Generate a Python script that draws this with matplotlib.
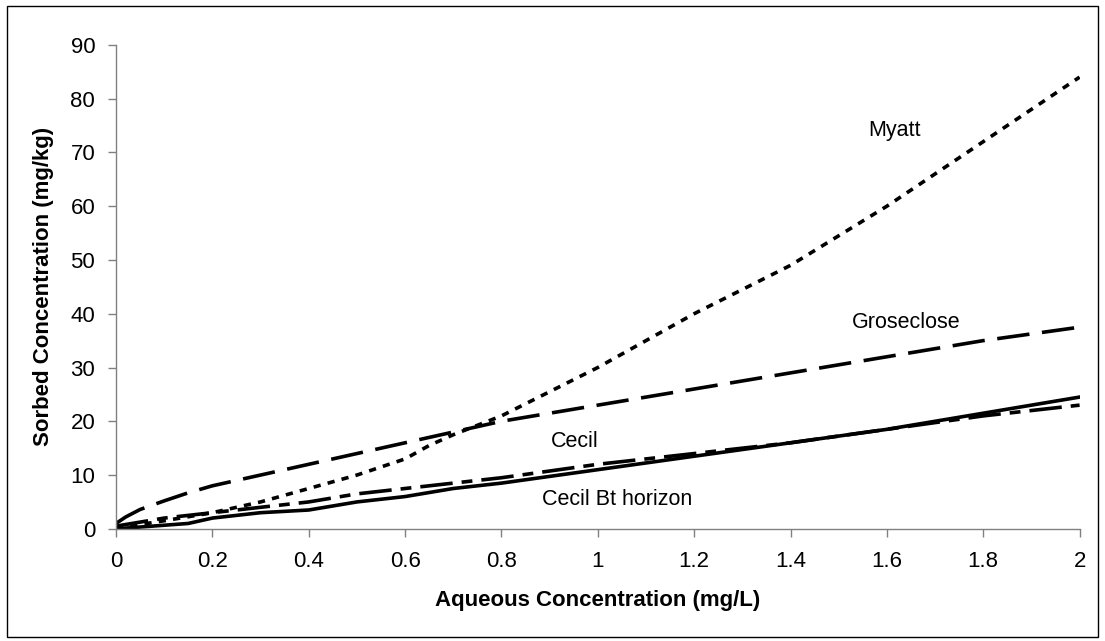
import matplotlib
matplotlib.use('Agg')
import matplotlib.pyplot as plt
from matplotlib.patches import Rectangle

plt.rcParams['font.family'] = ['Liberation Sans', 'DejaVu Sans']

x_myatt = [0, 0.05, 0.1, 0.2, 0.3, 0.4, 0.5, 0.6, 0.65, 0.7, 0.8, 0.9, 1.0, 1.1, 1.2, 1.3, 1.4, 1.5, 1.6, 1.7, 1.8, 1.9, 2.0]
y_myatt = [0, 0.8, 1.5, 3, 5, 7.5, 10, 13, 15.5, 17.5, 21, 25.5, 30, 35, 40, 44.5, 49, 54.5, 60, 66, 72, 78, 84]

x_gros = [0, 0.02, 0.05, 0.1, 0.15, 0.2, 0.3, 0.4, 0.5, 0.6, 0.7, 0.8, 0.9, 1.0, 1.2, 1.4, 1.6, 1.8, 2.0]
y_gros = [1, 2.2, 3.6, 5.2, 6.7, 8, 10, 12, 14, 16, 18, 20, 21.5, 23, 26, 29, 32, 35, 37.5]

x_cecil = [0, 0.1, 0.2, 0.3, 0.4, 0.5, 0.6, 0.7, 0.8, 1.0, 1.2, 1.4, 1.6, 1.8, 2.0]
y_cecil = [0.5, 2, 3, 4, 5, 6.5, 7.5, 8.5, 9.5, 12, 14, 16, 18.5, 21, 23]

x_bt = [0, 0.15, 0.2, 0.3, 0.4, 0.5, 0.6, 0.7, 0.8, 1.0, 1.2, 1.4, 1.6, 1.8, 2.0]
y_bt = [0, 1, 2, 3, 3.5, 5, 6, 7.5, 8.5, 11, 13.5, 16, 18.5, 21.5, 24.5]

fig = plt.figure(figsize=(11.05, 6.41), dpi=100)
ax = fig.add_axes([0.105, 0.175, 0.872, 0.755])

lw = 2.6
ax.plot(x_myatt, y_myatt, color='black', lw=lw, dashes=(2.0, 2.0))
ax.plot(x_gros, y_gros, color='black', lw=lw, dashes=(9, 3.5))
ax.plot(x_cecil, y_cecil, color='black', lw=lw, dashes=(9, 2.5, 3, 2.5))
ax.plot(x_bt, y_bt, color='black', lw=lw)

ax.text(1.615, 74, 'Myatt', fontsize=15.5, ha='center', va='center')
ax.text(1.64, 38.3, 'Groseclose', fontsize=15.5, ha='center', va='center')
ax.text(0.953, 16.2, 'Cecil', fontsize=15.5, ha='center', va='center')
ax.text(1.04, 5.4, 'Cecil Bt horizon', fontsize=15.5, ha='center', va='center')

ax.set_xlim(0, 2)
ax.set_ylim(0, 90)
ax.set_xticks([0, 0.2, 0.4, 0.6, 0.8, 1, 1.2, 1.4, 1.6, 1.8, 2])
ax.set_xticklabels(['0', '0.2', '0.4', '0.6', '0.8', '1', '1.2', '1.4', '1.6', '1.8', '2'])
ax.set_yticks(range(0, 91, 10))

for s in ['top', 'right']:
    ax.spines[s].set_visible(False)
for s in ['left', 'bottom']:
    ax.spines[s].set_color('#808080')
    ax.spines[s].set_linewidth(1)
ax.tick_params(direction='out', length=6, width=1, color='#808080', labelsize=16)
ax.tick_params(axis='x', pad=10)
ax.tick_params(axis='y', pad=9)

ax.set_xlabel('Aqueous Concentration (mg/L)', fontsize=16, fontweight='bold', labelpad=13)
ax.set_ylabel('Sorbed Concentration (mg/kg)', fontsize=16, fontweight='bold', labelpad=12)

fig.patches.append(Rectangle((0.006, 0.006), 0.988, 0.985, transform=fig.transFigure,
                             fill=False, edgecolor='black', lw=1))

fig.savefig('out.png', dpi=100)
